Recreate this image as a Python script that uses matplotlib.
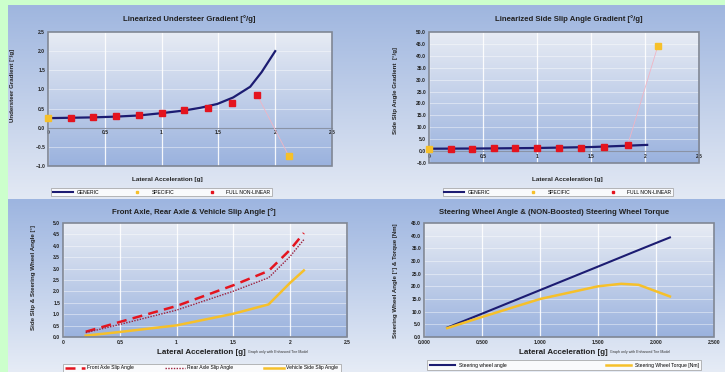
import numpy as np
import matplotlib
matplotlib.use('Agg')
import matplotlib.pyplot as plt
from matplotlib.colors import LinearSegmentedColormap
from matplotlib.patches import Rectangle
from matplotlib.lines import Line2D

plt.rcParams['font.family'] = ['Liberation Sans', 'DejaVu Sans']

W, H = 725, 372

# --- data ---
ug_gen_x = [0.0, 0.2, 0.4, 0.6, 0.8, 1.0, 1.2, 1.34, 1.49, 1.63, 1.78, 1.88, 2.0]
ug_gen_y = [0.25, 0.26, 0.27, 0.29, 0.32, 0.38, 0.45, 0.52, 0.62, 0.79, 1.07, 1.45, 2.0]
ug_spec_x = [0.0, 2.12]
ug_spec_y = [0.25, -0.74]
ug_full_x = [0.2, 0.4, 0.6, 0.8, 1.0, 1.2, 1.41, 1.62, 1.84]
ug_full_y = [0.26, 0.27, 0.31, 0.33, 0.38, 0.45, 0.52, 0.64, 0.86]

ss_gen_x = [0.0, 0.5, 1.0, 1.5, 1.8, 2.02]
ss_gen_y = [1.0, 1.1, 1.3, 1.7, 2.2, 2.6]
ss_spec_x = [0.0, 2.12]
ss_spec_y = [1.0, 44.3]
ss_full_x = [0.2, 0.4, 0.6, 0.8, 1.0, 1.2, 1.41, 1.62, 1.84]
ss_full_y = [1.0, 1.0, 1.1, 1.1, 1.2, 1.3, 1.5, 1.9, 2.6]

ay = [0.2, 0.5, 1.0, 1.5, 1.81, 2.0, 2.12]
front_slip = [0.23, 0.66, 1.36, 2.27, 2.9, 3.83, 4.56]
rear_slip = [0.19, 0.55, 1.18, 2.01, 2.6, 3.54, 4.27]
veh_slip = [0.06, 0.22, 0.51, 1.02, 1.43, 2.38, 2.92]

sw_x = [0.2, 0.5, 1.0, 1.5, 1.8, 2.0, 2.12]
sw_angle = [3.7, 9.2, 18.5, 27.8, 33.4, 37.1, 39.3]
tq_x = [0.2, 0.5, 1.0, 1.5, 1.7, 1.85, 2.12]
sw_torque = [3.5, 7.9, 15.0, 20.0, 21.0, 20.6, 16.0]

NAVY = '#1c1c72'
RED = '#e4141e'
GOLD = '#f6c02a'
DARKRED = '#9c1f3c'
TXT = '#222222'

fig = plt.figure(figsize=(W / 100, H / 100), dpi=100, facecolor='#ccffcc')


def rect(x, y, w, h):
    return [x / W, 1 - (y + h) / H, w / W, h / H]


def gradient(pos, top, bottom, z=0):
    a = fig.add_axes(pos, zorder=z)
    cm = LinearSegmentedColormap.from_list('g', [bottom, top])
    a.imshow(np.linspace(0, 1, 256).reshape(-1, 1), cmap=cm, aspect='auto',
             origin='lower', extent=[0, 1, 0, 1])
    a.set_axis_off()
    return a


# panel backgrounds
for px in [(8, 362), (362, 725)]:
    gradient(rect(px[0], 5, px[1] - px[0], 194), '#9fb6df', '#e3e9f4')
    gradient(rect(px[0], 199, px[1] - px[0], 173), '#9db5e0', '#e6ecf6')


def plot_axes(x0, y0, x1, y1):
    gradient(rect(x0, y0, x1 - x0, y1 - y0), '#e8ecf4', '#9ab2de', z=1)
    ax = fig.add_axes(rect(x0, y0, x1 - x0, y1 - y0), zorder=2)
    ax.set_facecolor('none')
    for s in ax.spines.values():
        s.set_visible(False)
    ax.add_patch(Rectangle((0, 0), 1, 1, transform=ax.transAxes, fill=False,
                           edgecolor='#7f8694', lw=1.2, zorder=5, clip_on=False))
    ax.grid(True, color='white', lw=0.9, alpha=0.9)
    ax.grid(True, axis='y', color='white', lw=0.6, alpha=0.5)
    ax.set_axisbelow(True)
    ax.tick_params(length=0, labelsize=3.6, colors=TXT, pad=2)
    for lab in ax.get_xticklabels() + ax.get_yticklabels():
        lab.set_fontweight('bold')
    return ax


def ticks_bold(ax):
    for lab in ax.get_xticklabels() + ax.get_yticklabels():
        lab.set_fontweight('bold')


def top_legend(ax, x0, x1, y0, y1):
    handles = [Line2D([], [], color=NAVY, lw=1.5),
               Line2D([], [], color=GOLD, ls='none', marker='s', ms=2),
               Line2D([], [], color=RED, ls='none', marker='s', ms=2)]
    leg = fig.legend(handles, ['GENERIC', 'SPECIFIC', 'FULL NON-LINEAR'],
                     loc='center', ncol=3, mode='expand', fontsize=3.6,
                     bbox_to_anchor=rect(x0, y0, x1 - x0, y1 - y0),
                     frameon=True, fancybox=False, borderpad=0.3,
                     handlelength=4, handletextpad=0.8)
    leg.get_frame().set_edgecolor('#999999')
    leg.get_frame().set_linewidth(0.6)
    leg.set_zorder(10)
    return leg


# ---- top-left: understeer gradient ----
ax1 = plot_axes(48, 32, 332, 166)
ax1.plot(ug_full_x[-1:] + ug_spec_x[-1:], ug_full_y[-1:] + ug_spec_y[-1:],
         color='#f0b4c4', lw=0.6, zorder=3)
ax1.plot(ug_gen_x, ug_gen_y, color=NAVY, lw=1.6, zorder=4)
ax1.plot(ug_full_x, ug_full_y, ls='none', marker='s', ms=3.8, color=RED, zorder=5)
ax1.plot(ug_spec_x, ug_spec_y, ls='none', marker='s', ms=3.8, color=GOLD,
         zorder=5, clip_on=False)
ax1.set_xlim(0, 2.5)
ax1.set_ylim(-1.0, 2.5)
ax1.set_xticks([0, 0.5, 1, 1.5, 2, 2.5])
ax1.set_xticklabels(['0', '0.5', '1', '1.5', '2', '2.5'])
ax1.set_yticks(np.arange(-1.0, 2.51, 0.5))
ax1.yaxis.set_major_formatter('{x:.1f}')
ax1.spines['bottom'].set_visible(True)
ax1.spines['bottom'].set_position(('data', 0))
ax1.spines['bottom'].set_color('#8a93a6')
ax1.spines['bottom'].set_linewidth(0.8)
ticks_bold(ax1)
fig.text(189 / W, 1 - 19 / H, 'Linearized Understeer Gradient [°/g]', ha='center',
         va='center', fontsize=5.6, fontweight='bold', color=TXT)
fig.text(13 / W, 1 - 85 / H, 'Understeer Gradient [°/g]', rotation=90, ha='center',
         va='center', fontsize=4.4, fontweight='bold', color=TXT)
fig.text(167 / W, 1 - 180 / H, 'Lateral Acceleration [g]', ha='center', va='center',
         fontsize=4.6, fontweight='bold', color=TXT)
top_legend(ax1, 49, 274, 187, 197)

# ---- top-right: side slip angle gradient ----
ax2 = plot_axes(429, 32, 699, 163)
ax2.plot(ss_full_x[-1:] + ss_spec_x[-1:], ss_full_y[-1:] + ss_spec_y[-1:],
         color='#f0b4c4', lw=0.6, zorder=3)
ax2.plot(ss_gen_x, ss_gen_y, color=NAVY, lw=1.6, zorder=4)
ax2.plot(ss_full_x, ss_full_y, ls='none', marker='s', ms=3.8, color=RED, zorder=5)
ax2.plot(ss_spec_x, ss_spec_y, ls='none', marker='s', ms=3.8, color=GOLD,
         zorder=5, clip_on=False)
ax2.set_xlim(0, 2.5)
ax2.set_ylim(-5.0, 50.0)
ax2.set_xticks([0, 0.5, 1, 1.5, 2, 2.5])
ax2.set_xticklabels(['0', '0.5', '1', '1.5', '2', '2.5'])
ax2.set_yticks(np.arange(-5.0, 50.1, 5.0))
ax2.yaxis.set_major_formatter('{x:.1f}')
ax2.spines['bottom'].set_visible(True)
ax2.spines['bottom'].set_position(('data', 0))
ax2.spines['bottom'].set_color('#8a93a6')
ax2.spines['bottom'].set_linewidth(0.8)
ticks_bold(ax2)
fig.text(569 / W, 1 - 19 / H, 'Linearized Side Slip Angle Gradient [°/g]', ha='center',
         va='center', fontsize=5.6, fontweight='bold', color=TXT)
fig.text(395 / W, 1 - 91 / H, 'Side Slip Angle Gradient  [°/g]', rotation=90,
         ha='center', va='center', fontsize=4.4, fontweight='bold', color=TXT)
fig.text(567 / W, 1 - 180 / H, 'Lateral Acceleration [g]', ha='center', va='center',
         fontsize=4.6, fontweight='bold', color=TXT)
top_legend(ax2, 440, 675, 187, 197)

# ---- bottom-left: slip angles ----
ax3 = plot_axes(63, 223, 347, 337)
ax3.plot(ay, front_slip, color=RED, lw=1.8, ls=(0, (4, 2.5)), label='Front Axle Slip Angle')
ax3.plot(ay, rear_slip, color=DARKRED, lw=1.0, ls=(0, (1, 1)), label='Rear Axle Slip Angle')
ax3.plot(ay, veh_slip, color=GOLD, lw=1.8, label='Vehicle Side Slip Angle')
ax3.set_xlim(0, 2.5)
ax3.set_ylim(0, 5.0)
ax3.set_xticks([0, 0.5, 1, 1.5, 2, 2.5])
ax3.set_xticklabels(['0', '0.5', '1', '1.5', '2', '2.5'])
ax3.set_yticks(np.arange(0, 5.01, 0.5))
ax3.yaxis.set_major_formatter('{x:.1f}')
ticks_bold(ax3)
fig.text(194 / W, 1 - 212 / H, 'Front Axle, Rear Axle & Vehicle Slip Angle [°]',
         ha='center', va='center', fontsize=5.6, fontweight='bold', color=TXT)
fig.text(33 / W, 1 - 278 / H, 'Side Slip & Steering Wheel Angle [°]', rotation=90,
         ha='center', va='center', fontsize=4.4, fontweight='bold', color=TXT)
fig.text(246 / W, 1 - 352 / H, 'Lateral Acceleration [g]', ha='right', va='center',
         fontsize=5.8, fontweight='bold', color=TXT)
fig.text(248 / W, 1 - 352 / H, 'Graph only with Enhanced Tire Model', ha='left',
         va='center', fontsize=2.6, color='#333333')
leg3 = fig.legend(loc='center', ncol=3, mode='expand', fontsize=3.6,
                  handles=ax3.get_lines(),
                  bbox_to_anchor=rect(60, 361, 283, 14), frameon=True, fancybox=False,
                  borderpad=0.4, handlelength=4, handletextpad=0.5)
leg3.get_frame().set_edgecolor('#999999')
leg3.get_frame().set_linewidth(0.6)

# ---- bottom-right: steering wheel angle & torque ----
ax4 = plot_axes(424, 223, 714, 337)
ax4.plot(sw_x, sw_angle, color=NAVY, lw=1.5, label='Steering wheel angle')
ax4.plot(tq_x, sw_torque, color=GOLD, lw=1.8, label='Steering Wheel Torque [Nm]')
ax4.set_xlim(0, 2.5)
ax4.set_ylim(0, 45.0)
ax4.set_xticks([0, 0.5, 1, 1.5, 2, 2.5])
ax4.xaxis.set_major_formatter('{x:.3f}')
ax4.set_yticks(np.arange(0, 45.1, 5.0))
ax4.yaxis.set_major_formatter('{x:.1f}')
ticks_bold(ax4)
fig.text(554 / W, 1 - 212 / H, 'Steering Wheel Angle & (NON-Boosted) Steering Wheel Torque',
         ha='center', va='center', fontsize=5.6, fontweight='bold', color=TXT)
fig.text(395 / W, 1 - 281 / H, 'Steering Wheel Angle [°] & Torque [Nm]', rotation=90,
         ha='center', va='center', fontsize=4.4, fontweight='bold', color=TXT)
fig.text(608 / W, 1 - 352 / H, 'Lateral Acceleration [g]', ha='right', va='center',
         fontsize=5.8, fontweight='bold', color=TXT)
fig.text(610 / W, 1 - 352 / H, 'Graph only with Enhanced Tire Model', ha='left',
         va='center', fontsize=2.6, color='#333333')
leg4 = fig.legend(loc='center', ncol=2, mode='expand', fontsize=3.6,
                  handles=ax4.get_lines(),
                  bbox_to_anchor=rect(425, 357, 279, 16), frameon=True, fancybox=False,
                  borderpad=0.5, handlelength=5, handletextpad=0.8)
leg4.get_frame().set_edgecolor('#999999')
leg4.get_frame().set_linewidth(0.6)

fig.savefig('out.png', dpi=100, facecolor=fig.get_facecolor())
